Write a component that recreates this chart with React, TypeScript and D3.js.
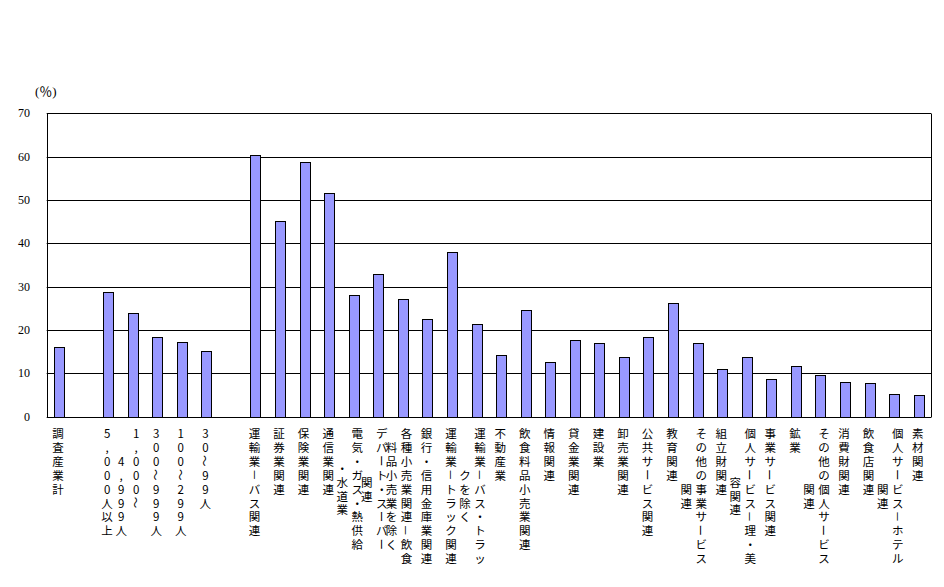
import React from "react";
import * as d3 from "d3";

// ---- data ----
const categories: string[] = [
  "調査産業計",
  "",
  "5,000人以上",
  "1,000～\n4,999人",
  "300～999人",
  "100～299人",
  "30～99人",
  "",
  "運輸業－バス関連",
  "証券業関連",
  "保険業関連",
  "通信業関連",
  "電気・ガス・熱供給\n・水道業",
  "デパート・スーパー\n関連",
  "各種小売業関連－飲食\n料品小売業を除く",
  "銀行・信用金庫業関連",
  "運輸業－トラック関連",
  "運輸業－バス・トラッ\nクを除く",
  "不動産業",
  "飲食料品小売業関連",
  "情報関連",
  "貸金業関連",
  "建設業",
  "卸売業関連",
  "公共サービス関連",
  "教育関連",
  "その他の事業サービス\n関連",
  "組立財関連",
  "個人サービス－理・美\n容関連",
  "事業サービス関連",
  "鉱業",
  "その他の個人サービス\n関連",
  "消費財関連",
  "飲食店関連",
  "個人サービス－ホテル\n関連",
  "素材関連",
];

const values: (number | null)[] = [
  16.0, null, 28.7, 23.9, 18.3, 17.2, 15.1, null,
  60.3, 45.1, 58.7, 51.6, 28.0, 32.9, 27.1, 22.5, 37.9, 21.3,
  14.2, 24.6, 12.6, 17.6, 16.9, 13.7, 18.3, 26.2, 16.9, 10.9,
  13.7, 8.6, 11.6, 9.7, 7.9, 7.7, 5.2, 4.9,
];

const yTicks: number[] = [0, 10, 20, 30, 40, 50, 60, 70];
const yUnit = "(％)";

// ---- layout ----
const W = 944;
const H = 587;
const plot = { left: 46.7, right: 931, top: 113.3, bottom: 416.7 };
const labelTop = 433;
const rowStep = 13.9;
const secondLineRowOverride: Record<number, number> = { 3: 2 };
const rotateChars = new Set(["ー", "－", "～"]);
const jpFont = "'Noto Sans CJK JP', 'Noto Sans CJK SC', sans-serif";

export default function App() {
  const idx = categories.map((_, i) => String(i));
  const x = d3
    .scaleBand<string>()
    .domain(idx)
    .range([plot.left, plot.right])
    .paddingInner(0.59)
    .paddingOuter(0.295);
  const y = d3.scaleLinear().domain([0, 70]).range([plot.bottom, plot.top]);

  const labelEls: React.ReactNode[] = [];
  categories.forEach((cat, i) => {
    if (!cat) return;
    const cx = (x(String(i)) as number) + x.bandwidth() / 2;
    const lines = cat.split("\n").map((l) => Array.from(l));
    const n1 = lines[0].length;
    lines.forEach((chars, k) => {
      const dx = lines.length === 1 ? -1 : k === 0 ? 3.5 : -11.5;
      const rowStart =
        k === 0
          ? 0
          : secondLineRowOverride[i] !== undefined
          ? secondLineRowOverride[i]
          : (n1 - chars.length) / 2;
      chars.forEach((ch, j) => {
        const px = cx + dx;
        const py = labelTop + (rowStart + j) * rowStep;
        labelEls.push(
          <text
            key={`l-${i}-${k}-${j}`}
            x={px}
            y={py}
            textAnchor="middle"
            dominantBaseline="central"
            fontSize={11.5}
            fontFamily={jpFont}
            fill="#000"
            transform={rotateChars.has(ch) ? `rotate(90 ${px} ${py})` : undefined}
          >
            {ch}
          </text>
        );
      });
    });
  });

  return (
    <svg
      width={W}
      height={H}
      style={{ position: "fixed", left: 0, top: 0, background: "#fff" }}
    >
      <rect x={0} y={0} width={W} height={H} fill="#fff" />
      {/* gridlines */}
      {yTicks.map((t) => (
        <line
          key={`g-${t}`}
          x1={plot.left}
          x2={plot.right}
          y1={Math.round(y(t)) + 0.5}
          y2={Math.round(y(t)) + 0.5}
          stroke="#000"
          strokeWidth={1}
        />
      ))}
      {/* bars */}
      {values.map((v, i) =>
        v == null ? null : (
          <rect
            key={`b-${i}`}
            x={Math.round(x(String(i)) as number) + 0.5}
            y={Math.round(y(v)) + 0.5}
            width={Math.round(x.bandwidth())}
            height={Math.round(y(0)) - Math.round(y(v))}
            fill="#9999ff"
            stroke="#000"
            strokeWidth={1}
          />
        )
      )}
      {/* plot frame left + right */}
      <line
        x1={Math.round(plot.left) + 0.5}
        x2={Math.round(plot.left) + 0.5}
        y1={Math.round(plot.top) + 0.5}
        y2={Math.round(plot.bottom) + 0.5}
        stroke="#000"
      />
      <line
        x1={Math.round(plot.right) + 0.5}
        x2={Math.round(plot.right) + 0.5}
        y1={Math.round(plot.top) + 0.5}
        y2={Math.round(plot.bottom) + 0.5}
        stroke="#000"
      />
      {/* y tick labels */}
      {yTicks.map((t) => (
        <text
          key={`t-${t}`}
          x={30}
          y={y(t)}
          textAnchor="end"
          dominantBaseline="central"
          fontSize={12}
          fontFamily="'Liberation Serif', serif"
          fill="#000"
        >
          {t}
        </text>
      ))}
      <text
        x={35}
        y={91}
        dominantBaseline="central"
        fontSize={13}
        fontFamily="'Liberation Serif', 'Noto Sans CJK JP', serif"
        fill="#000"
      >
        {yUnit}
      </text>
      {labelEls}
    </svg>
  );
}
